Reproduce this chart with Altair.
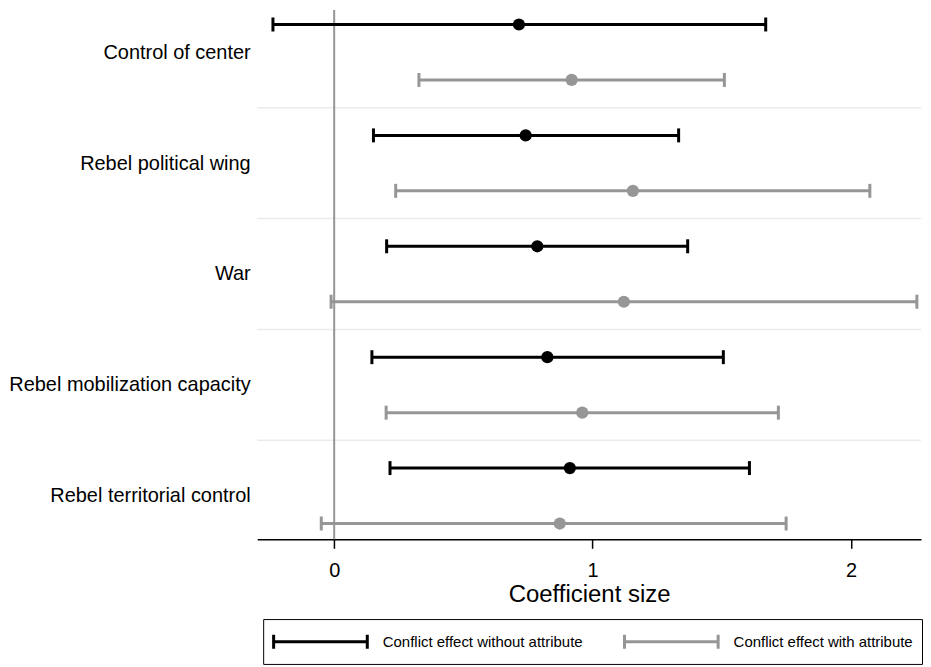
import altair as alt
import pandas as pd

categories = [
    "Control of center",
    "Rebel political wing",
    "War",
    "Rebel mobilization capacity",
    "Rebel territorial control",
]
series = ["Conflict effect without attribute", "Conflict effect with attribute"]
series_colors = ["#000000", "#969696"]

est_without = [0.715, 0.741, 0.786, 0.825, 0.912]
lo_without = [-0.237, 0.152, 0.203, 0.146, 0.216]
hi_without = [1.670, 1.333, 1.368, 1.506, 1.607]

est_with = [0.919, 1.156, 1.121, 0.960, 0.873]
lo_with = [0.328, 0.238, -0.012, 0.201, -0.050]
hi_with = [1.510, 2.073, 2.255, 1.719, 1.749]

x_ticks = [0, 1, 2]

rows = []
for i, cat in enumerate(categories):
    triples = [
        (est_without[i], lo_without[i], hi_without[i]),
        (est_with[i], lo_with[i], hi_with[i]),
    ]
    for s, (est, lo, hi) in enumerate(triples):
        rows.append({"category": cat, "series": series[s], "pos": 2 * i + s,
                     "est": est, "lo": lo, "hi": hi})
df = pd.DataFrame(rows)
sep_df = pd.DataFrame({"sep": [2 * i + 1.5 for i in range(len(categories) - 1)]})
zero_df = pd.DataFrame({"zero": [0]})

label_expr = " : ".join(
    f"datum.value < {2 * i + 1.5} ? '{c}'" for i, c in enumerate(categories)
) + " : ''"

x_scale = alt.Scale(domain=[-0.298, 2.271], nice=False, zero=False)
y_scale = alt.Scale(domain=[-0.26, 9.285], nice=False, zero=False, reverse=True)
color_scale = alt.Scale(domain=series, range=series_colors)

x_axis = alt.Axis(values=x_ticks, format="d", title="Coefficient size", grid=False,
                  tickSize=9, tickWidth=1.5, tickColor="black",
                  domainColor="black", domainWidth=1.5,
                  labelFontSize=20, labelPadding=12, labelColor="black",
                  titleFontSize=24, titleFontWeight="normal", titleColor="black",
                  titlePadding=2)
y_axis = alt.Axis(values=[2 * i + 0.5 for i in range(len(categories))],
                  labelExpr=label_expr, title=None, grid=False, ticks=False,
                  tickSize=0, domain=False, labelFontSize=20, labelPadding=7,
                  labelColor="black", labelLimit=400)

sym_path = "M-1,0H6.83M-1,-0.58V0.58M6.83,-0.58V0.58"
legend = alt.Legend(orient="none", legendX=6, legendY=611, direction="horizontal",
                    title=None, strokeColor="black", fillColor="white", padding=9,
                    symbolType=sym_path, symbolSize=576, symbolStrokeWidth=3,
                    labelFontSize=15, labelOffset=84, columnPadding=35,
                    labelLimit=400, labelColor="black")

seps = alt.Chart(sep_df).mark_rule(color="#ebebeb", strokeWidth=1.5).encode(
    y=alt.Y("sep:Q", scale=y_scale, axis=y_axis)
)
zero = alt.Chart(zero_df).mark_rule(color="#969696", strokeWidth=2).encode(
    x=alt.X("zero:Q", scale=x_scale, axis=x_axis)
)
bars = alt.Chart(df).mark_rule(strokeWidth=3).encode(
    x=alt.X("lo:Q", scale=x_scale, axis=x_axis),
    x2="hi:Q",
    y=alt.Y("pos:Q", scale=y_scale, axis=y_axis),
    stroke=alt.Stroke("series:N", scale=color_scale, legend=legend),
)
caps = alt.Chart(df).transform_fold(["lo", "hi"], as_=["end", "value"]).mark_tick(
    orient="vertical", size=14, thickness=3, opacity=1
).encode(
    x=alt.X("value:Q", scale=x_scale, axis=x_axis),
    y=alt.Y("pos:Q", scale=y_scale, axis=y_axis),
    color=alt.Color("series:N", scale=color_scale, legend=None),
)
points = alt.Chart(df).mark_circle(size=150, opacity=1).encode(
    x=alt.X("est:Q", scale=x_scale, axis=x_axis),
    y=alt.Y("pos:Q", scale=y_scale, axis=y_axis),
    color=alt.Color("series:N", scale=color_scale, legend=None),
)

chart = alt.layer(seps, zero, bars, caps, points).properties(
    width=666, height=531, padding=0
).configure(font="Liberation Sans").configure_view(stroke=None)

chart.save("out.html", embed_options={"renderer": "svg", "actions": False})
